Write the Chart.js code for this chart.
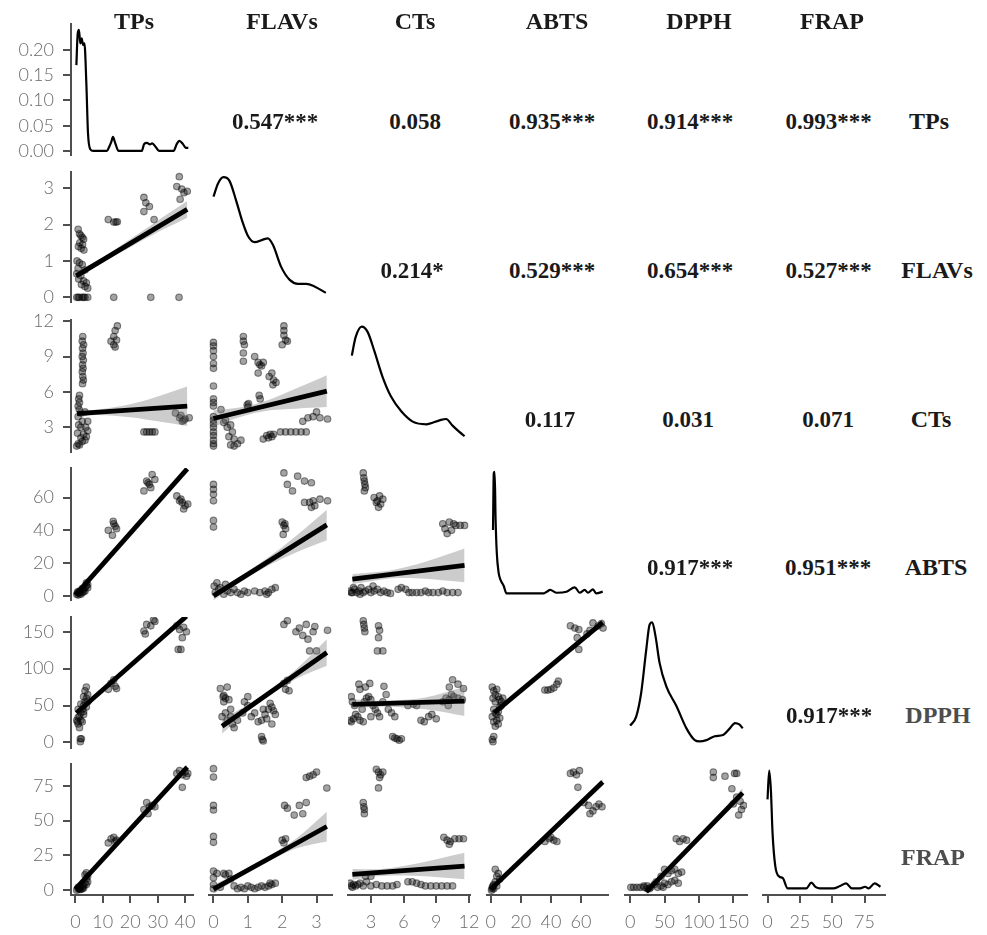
<!DOCTYPE html>
<html><head><meta charset="utf-8">
<script src="https://cdn.jsdelivr.net/npm/chart.js@4/dist/chart.umd.min.js"></script>
<style>
html,body{margin:0;padding:0;background:#fff;}
#wrap{position:relative;width:987px;height:935px;overflow:hidden;background:#fff;}
#wrap canvas{position:absolute;}
.txt{position:absolute;font-family:"Liberation Serif","Times New Roman",serif;font-weight:bold;white-space:nowrap;transform:translate(-50%,-50%);line-height:24px;height:24px;}
</style></head>
<body><div id="wrap"></div>
<script>
// ---------------- DATA ----------------
const variables = ['TPs','FLAVs','CTs','ABTS','DPPH','FRAP'];
const axisMin = [-1.6, -0.13, 0.9, -2.5, -7.5, -3.5];
const axisMax = [42.9, 3.45, 12.1, 78, 170, 90.8];
const ticksTPs = [0,10,20,30,40];
const ticksFLAVs = [0,1,2,3];
const ticksCTs = [3,6,9,12];
const ticksABTS = [0,20,40,60];
const ticksDPPH = [0,50,100,150];
const ticksFRAP = [0,25,50,75];
const ticksDensity = [0,0.05,0.10,0.15,0.20];
const densityMin = -0.008, densityMax = 0.2515;

// correlation labels: [row, col, text]
const corrLabels = [
  [0,1,'0.547***'],[0,2,'0.058'],[0,3,'0.935***'],[0,4,'0.914***'],[0,5,'0.993***'],
  [1,2,'0.214*'],[1,3,'0.529***'],[1,4,'0.654***'],[1,5,'0.527***'],
  [2,3,'0.117'],[2,4,'0.031'],[2,5,'0.071'],
  [3,4,'0.917***'],[3,5,'0.951***'],
  [4,5,'0.917***']
];

// diagonal densities (TPs in density units; others as relative height)
const densTPs = [[0.36,0.170],[0.85,0.233],[1.3,0.240],[1.8,0.213],[2.3,0.223],[2.8,0.21],[3.3,0.213],[4.0,0.134],[4.6,0.035],[5.5,0.003],[6.5,0],[11.5,0],[12.3,0.008],[13.1,0.018],[13.7,0.028],[14.5,0.016],[15.8,0],[24.2,0],[25.1,0.014],[26.1,0.016],[27.2,0.013],[28,0.015],[29.3,0.008],[30.5,0],[35.8,0],[37,0.014],[37.9,0.02],[39.2,0.014],[40.1,0.007],[41.2,0.006]];
const densFLAVs = [[0,0.81],[0.13,0.91],[0.29,0.96],[0.47,0.93],[0.66,0.78],[0.84,0.62],[1.0,0.51],[1.2,0.46],[1.44,0.48],[1.58,0.49],[1.73,0.44],[1.97,0.27],[2.22,0.17],[2.46,0.14],[2.7,0.14],[2.94,0.12],[3.27,0.07]];
const densCTs = [[1.25,0.73],[1.6,0.87],[2.17,0.95],[2.7,0.91],[3.3,0.77],[4.07,0.57],[4.85,0.42],[5.77,0.31],[6.84,0.23],[8.08,0.21],[9.3,0.24],[9.9,0.25],[10.5,0.20],[11.15,0.15],[11.6,0.12]];
const densABTS = [[1.5,0.53],[2.0,0.96],[2.6,0.97],[3.2,0.62],[4.0,0.36],[5.2,0.21],[6.6,0.15],[8.5,0.11],[10.5,0.05],[35,0.05],[37.3,0.063],[39.5,0.076],[43.9,0.055],[50.4,0.063],[55.9,0.096],[59.2,0.055],[62.5,0.076],[64.7,0.055],[68,0.08],[70.2,0.05],[74.5,0.063]];
const densDPPH = [[0,0.17],[8.8,0.24],[16,0.42],[23.4,0.75],[28.2,0.94],[32.1,0.96],[37,0.85],[42.8,0.65],[52.6,0.47],[67.3,0.32],[81.9,0.15],[94,0.06],[101,0.05],[111,0.06],[123,0.09],[135,0.10],[145,0.15],[152.5,0.19],[158.8,0.18],[163.7,0.15]];
const densFRAP = [[0,0.73],[1.3,0.95],[2.6,0.80],[3.9,0.47],[6.0,0.22],[9.1,0.14],[11.7,0.13],[15.6,0.05],[30,0.05],[33.9,0.094],[37.3,0.06],[40.4,0.05],[50.8,0.05],[56,0.069],[60.7,0.089],[65.2,0.05],[71.6,0.05],[75.5,0.063],[78.1,0.05],[82.8,0.089],[87.3,0.063]];

// scatter panels: points [x,y], fit line, confidence band lower / upper
const ptsTPsFLAVs = [[1,1.87],[1.5,1.75],[2,1.7],[2.5,1.65],[3,1.6],[1.6,1.5],[2.6,1.45],[1.1,1.4],[2.1,1.35],[3.1,1.3],[0.6,1.0],[1.5,0.95],[2.5,0.9],[1.0,0.8],[3.5,0.75],[0.5,0.65],[2.0,0.6],[1.2,0.5],[3.0,0.45],[4.0,0.4],[2.2,0.35],[3.5,0.3],[4.5,0.25],[0.5,0],[1.5,0],[2.5,0],[3.5,0],[4.5,0],[1.0,0],[3.0,0],[14,0],[27.5,0],[37.8,0],[12,2.14],[14,2.07],[14.8,2.07],[15.3,2.08],[25,2.75],[25.7,2.6],[27,2.5],[25,2.36],[28.7,2.14],[37.9,3.32],[37,3.05],[38.8,2.98],[40.8,2.92],[38.2,2.7],[39.6,2.88]];
const fitTPsFLAVs = [[0.3,0.59],[40.8,2.42]];
const loTPsFLAVs = [[0.3,0.46],[8,0.88],[20,1.38],[30,1.79],[40.8,2.19]];
const hiTPsFLAVs = [[0.3,0.72],[8,1.01],[20,1.6],[30,2.11],[40.8,2.65]];

const ptsTPsCTs = [[2.7,10.7],[2.5,10.3],[3.0,10.0],[2.6,9.7],[2.8,9.3],[2.5,9.0],[2.9,8.7],[2.6,8.3],[2.8,8.0],[2.5,7.7],[2.7,7.3],[2.9,7.0],[2.6,6.7],[1.5,5.7],[1.2,5.4],[1.5,5.1],[1.0,4.8],[1.4,4.5],[2.0,4.2],[3.5,4.3],[1.0,3.9],[2.5,3.5],[1.2,3.2],[3.8,3.0],[2.0,3.0],[4.5,2.7],[3.0,2.4],[2.0,2.1],[4.0,2.2],[3.5,1.9],[1.0,1.6],[0.5,1.4],[1.5,1.5],[2.5,1.8],[4.5,3.5],[0.8,2.5],[13,10.3],[14,10.7],[14.5,11.2],[15.3,11.6],[14,10.0],[15,10.4],[14.5,9.8],[25,2.6],[26,2.6],[27,2.6],[28,2.6],[29,2.6],[36.5,4.2],[38,3.8],[39,3.5],[40,3.7],[41.5,3.8],[38.5,4.0],[39.5,3.6]];
const fitTPsCTs = [[0.6,4.15],[40.8,4.8]];
const loTPsCTs = [[0.6,3.85],[8,4.05],[20,3.85],[30,3.5],[40.8,3.1]];
const hiTPsCTs = [[0.6,4.45],[8,4.5],[20,4.95],[30,5.6],[40.8,6.45]];

const ptsFLAVsCTs = [[0,10.2],[0,9.9],[0,9.5],[0,9.0],[0,8.4],[0,8.0],[0,6.5],[0,5.4],[0,5.1],[0,4.8],[0,3.9],[0,3.6],[0,3.3],[0,3.0],[0,2.6],[0,2.3],[0,1.9],[0,1.6],[0,1.4],[0.22,4.5],[0.3,3.4],[0.4,3.0],[0.5,3.2],[0.45,2.2],[0.6,2.0],[0.5,1.5],[0.7,1.6],[0.6,1.4],[0.8,1.9],[0.55,2.6],[0.35,3.6],[0.87,10.7],[0.87,10.3],[0.9,10.0],[0.87,9.3],[0.87,8.6],[0.98,4.9],[1.0,4.7],[1.02,5.0],[1.2,9.0],[1.3,8.5],[1.35,8.3],[1.45,8.5],[1.3,7.6],[1.4,8.2],[1.62,7.3],[1.7,7.6],[1.75,7.0],[1.82,6.8],[1.73,6.6],[1.33,5.7],[1.36,5.4],[1.45,2.0],[1.55,2.3],[1.65,2.4],[1.7,2.2],[1.75,2.4],[1.6,2.1],[2.05,11.6],[2.05,11.2],[2.05,10.8],[2.0,10.0],[2.1,10.4],[2.15,10.3],[1.95,2.6],[2.1,2.6],[2.25,2.6],[2.4,2.6],[2.55,2.6],[2.7,2.6],[2.6,3.5],[2.75,3.8],[2.9,3.9],[3.0,4.3],[3.1,3.8],[3.32,3.7]];
const fitFLAVsCTs = [[0,3.74],[3.3,6.06]];
const loFLAVsCTs = [[0,3.04],[0.8,3.9],[1.6,4.42],[2.4,4.58],[3.3,4.71]];
const hiFLAVsCTs = [[0,4.44],[0.8,4.7],[1.6,5.32],[2.4,6.28],[3.3,7.41]];

const ptsTPsABTS = [[0.5,1],[1,2],[1.5,1.5],[2,3],[2.5,2],[3,4],[3.5,5],[4,6],[4.5,7],[1,0.5],[2,1],[3,2.5],[3.5,3],[4,8],[4.5,5],[1.5,3],[2.5,4.5],[0.8,2.5],[12,40],[13.5,37],[14,44],[14.5,42.5],[15,41],[13.8,45.5],[25,64],[26,70],[27,68],[28,74],[27.5,66],[29,71],[26.5,69],[37,61],[38,58],[39,57],[40,55],[41,56],[39.5,53],[38.5,59]];
const fitTPsABTS = [[0,0.5],[40.8,77.5]];
const loTPsABTS = [[0,-1],[10,17.5],[20,36.5],[30,55.5],[40.8,75.5]];
const hiTPsABTS = [[0,2],[10,20],[20,39],[30,58.5],[40.8,79.5]];

const ptsFLAVsABTS = [[0,68],[0,65],[0,62],[0,58],[0,46],[0,42],[0.1,8],[0.2,5],[0.35,7],[0.4,3],[0.5,2],[0.6,4],[0.7,2],[0.8,1],[0.9,3],[1.0,2],[1.2,3],[1.35,2],[1.5,3],[1.6,2],[1.7,4],[1.8,5],[1.55,1],[0.3,1],[0.05,2],[0.15,4],[0.02,6],[2.0,45],[2.05,43],[2.1,41],[2.03,37.5],[2.08,44],[2.05,75],[2.15,68],[2.3,64],[2.45,73],[2.65,70],[2.85,69],[2.65,57],[2.8,57],[2.9,58],[2.95,55],[2.85,54],[3.1,59],[3.32,58]];
const fitFLAVsABTS = [[0,0],[3.3,43.3]];
const loFLAVsABTS = [[0,-2.7],[0.8,8.7],[1.6,18.5],[2.4,26.5],[3.3,34]];
const hiFLAVsABTS = [[0,2.7],[0.8,12.3],[1.6,23.5],[2.4,36.5],[3.3,52.6]];

const ptsCTsABTS = [[2.3,75],[2.35,72],[2.4,70],[2.45,68],[2.5,66],[2.4,64],[3.3,60],[3.6,58],[3.8,61],[3.9,56],[3.7,54],[3.5,57],[4.1,59],[9.6,44],[9.8,41],[10.2,45],[10.4,40],[10.8,43],[11.2,43],[11.6,43],[10.0,38],[10.6,44],[1.1,3],[1.3,2],[1.5,4],[1.7,2],[1.9,3],[2.1,5],[2.3,2],[2.5,3],[2.8,4],[3.0,2],[3.3,3],[3.6,4],[3.9,2],[4.2,3],[4.5,2],[4.8,1.5],[5.5,4],[5.8,5],[6.2,4],[6.5,2],[6.8,2],[7.2,2],[7.6,2],[8.0,3],[8.3,2],[8.7,2],[9.2,2],[9.6,3],[10.0,2],[10.5,2],[11.0,2],[1.2,2],[2.0,1],[1.4,5],[3.2,6]];
const fitCTsABTS = [[1.3,10.3],[11.6,18.6]];
const loCTsABTS = [[1.3,7.3],[3,9.0],[5,10.8],[8,10.5],[11.6,8.3]];
const hiCTsABTS = [[1.3,13.3],[3,14.3],[5,15.8],[8,20.9],[11.6,28.9]];

const ptsTPsDPPH = [[0.5,30],[1,25],[1.5,35],[2,40],[2.5,45],[3,50],[3.5,55],[4,60],[4.5,65],[1,45],[2,30],[3,38],[1.5,20],[2.5,28],[3.5,70],[4,75],[4.5,55],[2,52],[3,62],[1,34],[0.8,28],[1.8,5],[2.2,5],[1.8,1],[3,42],[4,48],[12,72],[13,80],[14,85],[14.5,76],[15,73],[25,151],[25.5,147],[26,160],[27.5,158],[29,164],[28.5,166],[37,158],[38,153],[39.5,156],[39,142],[37.5,126],[38.5,126],[40.5,150]];
const fitTPsDPPH = [[0.4,40],[40.5,171]];
const loTPsDPPH = [[0.4,35],[10,69],[20,102],[30,134],[40.5,166]];
const hiTPsDPPH = [[0.4,45],[10,74],[20,106.5],[30,140],[40.5,176]];

const ptsFLAVsDPPH = [[0.2,73],[0.3,64],[0.35,60],[0.4,75],[0.45,58],[0.3,55],[0.5,45],[0.25,35],[0.4,30],[0.55,25],[0.6,20],[0.5,35],[0.35,40],[0.28,62],[0.7,30],[0.85,40],[0.9,55],[1.0,62],[1.0,50],[1.1,35],[1.2,40],[1.3,28],[1.4,30],[1.45,45],[1.5,38],[1.55,32],[1.6,45],[1.65,53],[1.7,48],[1.75,43],[1.8,38],[1.7,25],[1.4,8],[1.42,4],[1.45,2],[2.05,80],[2.1,72],[2.2,70],[2.15,84],[2.05,160],[2.15,165],[2.4,150],[2.5,155],[2.6,145],[2.7,160],[2.75,140],[2.9,150],[2.95,157],[2.8,124],[3.0,124],[3.32,152]];
const fitFLAVsDPPH = [[0.25,22],[3.3,122]];
const loFLAVsDPPH = [[0.25,12],[1.0,42],[1.6,63.3],[2.4,86],[3.3,104]];
const hiFLAVsDPPH = [[0.25,32],[1.0,51],[1.6,69.3],[2.4,99],[3.3,140]];

const ptsCTsDPPH = [[2.3,165],[2.35,160],[2.4,155],[2.45,150],[3.7,158],[3.8,152],[3.7,142],[3.6,124],[4.1,124],[1.2,62],[1.3,55],[1.5,50],[1.6,38],[1.8,35],[2.0,30],[2.2,45],[2.4,55],[2.6,60],[2.8,62],[3.0,58],[3.2,50],[3.4,45],[3.6,40],[3.8,35],[4.1,55],[4.4,65],[4.6,45],[4.9,40],[5.2,35],[1.1,30],[1.2,28],[1.4,32],[2.3,28],[3.0,35],[6.4,50],[6.9,52],[7.2,50],[7.6,30],[7.9,28],[8.3,35],[8.6,38],[9.0,32],[9.6,55],[9.9,60],[10.2,58],[10.4,65],[10.6,62],[11.0,60],[11.4,58],[10.1,50],[2.5,75],[2.9,80],[1.9,79],[2.0,72],[4.2,76],[10.5,85],[11.0,79],[11.5,73],[10.2,75],[5.0,8],[5.2,6],[5.4,5],[5.6,3],[5.8,5]];
const fitCTsDPPH = [[1.3,51.6],[11.6,56]];
const loCTsDPPH = [[1.3,45],[3,48],[5,48.5],[8,45],[11.6,36]];
const hiCTsDPPH = [[1.3,58.5],[3,57],[5,57],[8,61],[11.6,75]];

const ptsABTSDPPH = [[1,75],[2,70],[3,65],[4,72],[5,62],[6,58],[7,50],[2,45],[3,40],[1,35],[4,30],[2,28],[5,25],[3,22],[6,48],[8,60],[1,4],[1.5,1],[2,8],[4,38],[7,55],[3,55],[5,42],[1.5,60],[6,33],[36,71],[38,71],[40,72],[42,74],[44,79],[45,83],[53,158],[56,155],[58.6,153],[57.5,142],[58.6,126],[64,147],[68,162],[71.5,158],[73.6,161],[74.7,155],[66,152]];
const fitABTSDPPH = [[2.2,40],[74.5,162.6]];
const loABTSDPPH = [[2.2,37],[20,68],[40,101.5],[60,135],[74.5,157]];
const hiABTSDPPH = [[2.2,43],[20,72.5],[40,106.5],[60,141],[74.5,168]];

const ptsTPsFRAP = [[0.5,0],[1,1],[1.5,0.5],[2,2],[2.5,1],[3,3],[3.5,5],[4,8],[4.5,10],[1,2],[2,0.5],[3,1.5],[3.5,11],[4,12.5],[4.5,6],[2.5,3],[1.5,1],[4,4],[12,34],[13,37],[14,38],[14.5,35],[15,36],[25,58],[26,63],[27,60],[28,61],[29,60],[26.5,55],[37,84],[38,86],[39,83],[40,85],[41,84],[39,74],[40.5,82]];
const fitTPsFRAP = [[0,0.7],[40.8,88.5]];
const loTPsFRAP = [[0,-0.8],[10,21.2],[20,42.8],[30,64],[40.8,86.5]];
const hiTPsFRAP = [[0,2.2],[10,23.2],[20,44.6],[30,66.6],[40.8,90.5]];

const ptsFLAVsFRAP = [[0,87.4],[0,81.4],[0,61],[0,57.7],[0,38.7],[0,34.4],[0,13.7],[0,9],[0,4],[0,1],[0.1,12],[0.3,12],[0.35,11],[0.45,12],[0.5,8],[0.6,3],[0.7,1],[0.8,2],[1.0,3],[1.1,2],[1.3,2],[1.4,3],[1.5,2],[1.6,3],[1.7,4],[1.8,5],[0.2,2],[0.9,1],[1.2,1],[1.65,5],[2.0,36],[2.05,34],[2.1,37],[2.07,61],[2.15,59],[2.35,54],[2.5,61],[2.6,55],[2.7,63],[2.7,81],[2.8,82],[2.9,83],[3.0,85],[3.3,73.5]];
const fitFLAVsFRAP = [[0,0.7],[3.3,45.8]];
const loFLAVsFRAP = [[0,-2.5],[0.8,9.5],[1.6,20.5],[2.4,30],[3.3,35]];
const hiFLAVsFRAP = [[0,3.9],[0.8,13.5],[1.6,24.5],[2.4,37],[3.3,56.5]];

const ptsCTsFRAP = [[3.5,87],[3.7,85],[3.9,83],[4.1,85],[3.8,81],[3.7,73.6],[2.3,63],[2.35,60],[2.4,58],[2.4,55],[9.7,38],[10,36],[10.3,35],[10.7,37],[11.1,37],[11.5,37],[10.2,33],[1.2,3],[1.4,4],[1.6,3],[1.8,4],[2.0,5],[2.3,3],[2.6,6],[3.0,3],[3.5,4],[4.0,3],[4.5,3],[5.0,3],[5.4,4],[6.4,6],[6.8,6],[7.2,5],[7.6,4],[8.0,3],[8.5,3],[9.0,3],[9.5,3],[10.0,3],[10.5,3],[2.5,10],[3.0,10],[1.1,5],[1.3,2]];
const fitCTsFRAP = [[1.3,11.4],[11.6,17.3]];
const loCTsFRAP = [[1.3,7.5],[3,9.5],[5,10.5],[8,10],[11.6,7.8]];
const hiCTsFRAP = [[1.3,15.3],[3,15],[5,16.2],[8,20.5],[11.6,27]];

const ptsABTSFRAP = [[1,2],[2,4],[3,6],[4,10],[5,12],[3,15],[1,1],[0.5,0],[2,1],[6,8],[1.5,3],[4,3],[36,35],[39,37],[42,36],[44,35],[40,38],[53,84],[55,85],[57,83],[59,86],[58,74],[62,63],[65,61],[68,57],[70,60],[72,62],[74,60],[66,55]];
const fitABTSFRAP = [[0,0.7],[74.5,77.9]];
const loABTSFRAP = [[0,-1],[20,20.3],[40,40.9],[60,61.2],[74.5,75.5]];
const hiABTSFRAP = [[0,2.4],[20,22.5],[40,43.3],[60,64.6],[74.5,80.3]];

const ptsDPPHFRAP = [[1,2],[5,2],[10,2],[15,2],[20,3],[25,1],[20,2],[25,3],[30,2],[35,4],[40,2],[45,3],[50,5],[55,4],[60,6],[65,7],[70,5],[28,1],[38,6],[48,2],[45,10],[55,12],[60,14],[65,15],[70,12],[75,13],[50,15],[67,37],[72,35],[77,37],[82,36],[121,85],[121,81],[138,82],[152,84],[155,84],[148,73],[155,67],[150,62],[160,64],[165,61],[162,58],[158,54]];
const fitDPPHFRAP = [[23.4,-1.2],[163.7,70]];
const loDPPHFRAP = [[23.4,-3],[50,11],[90,31],[130,50.5],[163.7,66.5]];
const hiDPPHFRAP = [[23.4,0.6],[50,13.6],[90,34.2],[130,55.3],[163.7,73.5]];

// ---------------- LAYOUT ----------------
const panelLeft = [71, 209, 348, 487, 625, 763];
const panelW    = [122, 123, 122, 121, 122, 122];
const panelTop  = [24, 172, 320, 468, 617, 764];
const panelH    = [131, 130, 132, 132, 131, 131];
const M = 20, YW = 71, XH = 40;
const AX = '#4f4f4f', TK = '#6a6a6a';
const TICK_FONT = {family:'Lato, "Open Sans", sans-serif', size:18, weight:300};
const headerX = [134, 282, 415, 557, 699, 832];
const headerY = 20.5;
const rowLabelX = [929, 937, 931, 936, 938, 933];
const rowCenterY = [121, 270, 419, 567, 715, 857];
const rowLabelColor = ['#1a1a1a','#1a1a1a','#1a1a1a','#1a1a1a','#4d4d4d','#4d4d4d'];
const corrX = [[null,275,415,552,690,828.5],[null,null,412,552,690,828.5],[null,null,null,550,688,828],[null,null,null,null,690,828],[null,null,null,null,null,829]];

const axisTicks = [ticksTPs, ticksFLAVs, ticksCTs, ticksABTS, ticksDPPH, ticksFRAP];
const densities = [densTPs, densFLAVs, densCTs, densABTS, densDPPH, densFRAP];
const scatterPanels = [
  [1,0,ptsTPsFLAVs,fitTPsFLAVs,loTPsFLAVs,hiTPsFLAVs],
  [2,0,ptsTPsCTs,fitTPsCTs,loTPsCTs,hiTPsCTs],
  [2,1,ptsFLAVsCTs,fitFLAVsCTs,loFLAVsCTs,hiFLAVsCTs],
  [3,0,ptsTPsABTS,fitTPsABTS,loTPsABTS,hiTPsABTS],
  [3,1,ptsFLAVsABTS,fitFLAVsABTS,loFLAVsABTS,hiFLAVsABTS],
  [3,2,ptsCTsABTS,fitCTsABTS,loCTsABTS,hiCTsABTS],
  [4,0,ptsTPsDPPH,fitTPsDPPH,loTPsDPPH,hiTPsDPPH],
  [4,1,ptsFLAVsDPPH,fitFLAVsDPPH,loFLAVsDPPH,hiFLAVsDPPH],
  [4,2,ptsCTsDPPH,fitCTsDPPH,loCTsDPPH,hiCTsDPPH],
  [4,3,ptsABTSDPPH,fitABTSDPPH,loABTSDPPH,hiABTSDPPH],
  [5,0,ptsTPsFRAP,fitTPsFRAP,loTPsFRAP,hiTPsFRAP],
  [5,1,ptsFLAVsFRAP,fitFLAVsFRAP,loFLAVsFRAP,hiFLAVsFRAP],
  [5,2,ptsCTsFRAP,fitCTsFRAP,loCTsFRAP,hiCTsFRAP],
  [5,3,ptsABTSFRAP,fitABTSFRAP,loABTSFRAP,hiABTSFRAP],
  [5,4,ptsDPPHFRAP,fitDPPHFRAP,loDPPHFRAP,hiDPPHFRAP]
];

// ---------------- RENDER ----------------
const wrap = document.getElementById('wrap');
const xy = a => a.map(p => ({x:p[0], y:p[1]}));

function scaleCfg(min, max, show, tickVals, fmt, isX){
  const s = {type:'linear', min:min, max:max, display:show};
  if(show){
    s.border = {display:true, color:AX, width:2};
    s.grid = {display:true, drawOnChartArea:false, drawTicks:true, tickLength:8, color:AX, lineWidth:2};
    s.ticks = {color:TK, font:TICK_FONT, padding: isX ? 8 : 9,
               autoSkip:false, maxRotation:0, minRotation:0, callback: fmt};
    s.afterBuildTicks = sc => { sc.ticks = tickVals.map(v => ({value:v})); };
    s.afterFit = sc => { if(isX) sc.height = XH; else sc.width = YW; };
  }
  return s;
}

function makePanel(r, c, datasets, yMin, yMax, yTicks, yFmt){
  const extraL = (c === 0) ? YW : 0;
  const extraB = (r === 5) ? XH : 0;
  const cv = document.createElement('canvas');
  const w = panelW[c] + 2*M + extraL;
  const h = panelH[r] + 2*M + extraB;
  cv.width = w; cv.height = h;
  cv.style.left = (panelLeft[c] - extraL - M) + 'px';
  cv.style.top = (panelTop[r] - M) + 'px';
  cv.style.width = w + 'px'; cv.style.height = h + 'px';
  wrap.appendChild(cv);
  new Chart(cv, {
    type:'line',
    data:{datasets: datasets},
    options:{
      responsive:false, animation:false, events:[], devicePixelRatio:1,
      layout:{padding:{left:M, right:M, top:M, bottom:M}},
      plugins:{legend:{display:false}, tooltip:{enabled:false}},
      scales:{
        x: scaleCfg(axisMin[c], axisMax[c], r === 5, axisTicks[c], v => String(v), true),
        y: scaleCfg(yMin, yMax, c === 0, yTicks, yFmt, false)
      }
    }
  });
}

// diagonal density panels
densities.forEach((d, i) => {
  const isFirst = i === 0;
  makePanel(i, i, [{
    data: xy(d), borderColor:'#000', borderWidth:2.2, pointRadius:0,
    cubicInterpolationMode:'monotone', fill:false
  }], isFirst ? densityMin : 0, isFirst ? densityMax : 1, ticksDensity, v => v.toFixed(2));
});

// scatter panels
scatterPanels.forEach(p => {
  const [r, c, pts, fit, lo, hi] = p;
  const ds = [
    {data: xy(pts), showLine:false, pointRadius:3.3, pointBorderWidth:1.1,
     pointBackgroundColor:'rgba(0,0,0,0.36)', pointBorderColor:'rgba(0,0,0,0.45)', order:3},
    {data: xy(lo), borderWidth:0, pointRadius:0, tension:0.35, fill:false, order:2, borderColor:'rgba(0,0,0,0)'},
    {data: xy(hi), borderWidth:0, pointRadius:0, tension:0.35, fill:'-1', order:2,
     borderColor:'rgba(0,0,0,0)', backgroundColor:'rgba(120,120,120,0.38)'},
    {data: xy(fit), borderColor:'#000', borderWidth:4.8, pointRadius:0, fill:false, order:1}
  ];
  makePanel(r, c, ds, axisMin[r], axisMax[r], axisTicks[r], v => String(v));
});

// text: headers, row labels, correlations
function addText(txt, x, y, size, color){
  const d = document.createElement('div');
  d.className = 'txt';
  d.textContent = txt;
  d.style.left = x + 'px'; d.style.top = y + 'px';
  d.style.fontSize = size + 'px'; d.style.color = color;
  wrap.appendChild(d);
}
variables.forEach((v, i) => addText(v, headerX[i], headerY, 24, '#1a1a1a'));
variables.forEach((v, i) => addText(v, rowLabelX[i], rowCenterY[i], 24, rowLabelColor[i]));
corrLabels.forEach(([r, c, t]) => addText(t, corrX[r][c], rowCenterY[r] + 1, 23, '#1a1a1a'));
</script>
</body></html>
